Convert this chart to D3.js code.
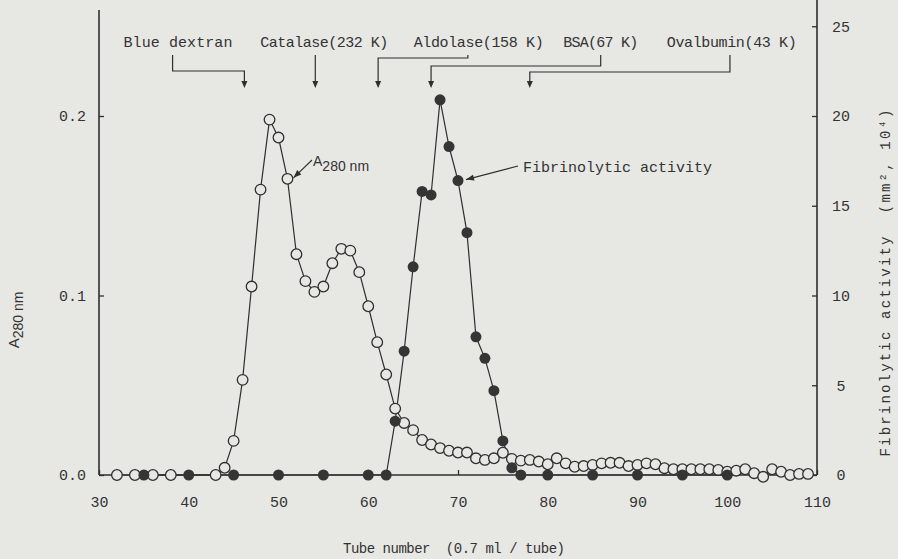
<!DOCTYPE html>
<html>
<head>
<meta charset="utf-8">
<script src="https://cdn.jsdelivr.net/npm/d3@7"></script>
<style>
  body { margin: 0; background: #e7e7e4; }
  svg { display: block; }
  text { fill: #333; }
</style>
</head>
<body>
<div id="chart"></div>
<script>
// A280 (open circles)
const tubesA = [32, 34, 36, 38, 43, 44, 45, 46, 47, 48, 49, 50, 51, 52, 53, 54, 55, 56, 57, 58,
    59, 60, 61, 62, 63, 64, 65, 66, 67, 68, 69, 70, 71, 72, 73, 74, 75, 76, 77, 78,
    79, 80, 81, 82, 83, 84, 85, 86, 87, 88, 89, 90, 91, 92, 93, 94, 95, 96, 97, 98,
    99, 100, 101, 102, 103, 104, 105, 106, 107, 108, 109];
const valuesA = [0, 0, 0, 0, 0, 0.004, 0.019, 0.053, 0.105, 0.159, 0.198, 0.188, 0.165, 0.123, 0.108, 0.102, 0.105, 0.118, 0.126, 0.125,
    0.113, 0.094, 0.074, 0.056, 0.037, 0.029, 0.025, 0.0195, 0.017, 0.015, 0.0135, 0.0125, 0.0125, 0.0093, 0.0084, 0.0093, 0.0124, 0.009, 0.008, 0.0084,
    0.0075, 0.006, 0.0093, 0.0065, 0.0046, 0.005, 0.0056, 0.0065, 0.0068, 0.0068, 0.005, 0.0056, 0.0065, 0.006, 0.0038, 0.0032, 0.0032, 0.0032, 0.0032, 0.0032,
    0.0028, 0.0018, 0.0024, 0.0032, 0.001, -0.001, 0.0032, 0.0018, 0, 0.0006, 0.0006];

// fibrinolytic activity (filled circles)
const tubesF = [35, 40, 45, 50, 55, 60, 62, 63, 64, 65, 66, 67, 68, 69, 70, 71, 72, 73, 74, 75, 76, 77, 80, 85, 90, 95, 100];
const valuesF = [0, 0, 0, 0, 0, 0, 0, 3.0, 6.9, 11.6, 15.8, 15.6, 20.9, 18.3, 16.4, 13.5, 7.7, 6.5, 4.7, 1.9, 0.4, 0, 0, 0, 0, 0, 0];

const xTicks = [30, 40, 50, 60, 70, 80, 90, 100, 110];
const yTicksA = [0, 0.1, 0.2];
const yTicksF = [0, 5, 10, 15, 20, 25];

// size markers: name, elution tube, label center tube, drop tube (null = straight)
const markerNames = ["Blue dextran", "Catalase(232 K)", "Aldolase(158 K)", "BSA(67 K)", "Ovalbumin(43 K)"];
const markerTubes = [46.2, 54.1, 61.1, 67.0, 78.0];
const markerLabelAt = [38.8, 55.1, 72.3, 85.9, 100.5];
const markerDropAt = [38.2, null, 71.1, 85.9, 100.3];

// layout for the marker brackets (px)
const markerLevel = [71, null, 58, 66, 72];
const markerTextLen = [109, 128, 130, 75, 130];

const ink = "#2f2f2f";
const paper = "#e7e7e4";
const mono = "'Liberation Mono', 'DejaVu Sans Mono', monospace";
const sans = "'Liberation Sans', Arial, sans-serif";

const width = 898, height = 559;
const svg = d3.select("#chart").append("svg")
    .attr("width", width)
    .attr("height", height);

svg.append("rect").attr("width", width).attr("height", height).attr("fill", paper);

const x = d3.scaleLinear().domain([30, 110]).range([99, 817]);
const yA = d3.scaleLinear().domain([0, 0.2]).range([475, 116]);
const yF = d3.scaleLinear().domain([0, 20]).range([475, 116]);

// axes
const xAxis = svg.append("g")
    .attr("transform", "translate(0," + yA(0) + ")")
    .call(d3.axisBottom(x).tickValues(xTicks).tickSize(-5).tickPadding(21));
const leftAxis = svg.append("g")
    .attr("transform", "translate(" + x(30) + ",0)")
    .call(d3.axisLeft(yA).tickValues(yTicksA).tickFormat(d3.format(".1f")).tickSize(-5).tickPadding(13));
const rightAxis = svg.append("g")
    .attr("transform", "translate(" + x(110) + ",0)")
    .call(d3.axisRight(yF).tickValues(yTicksF).tickSize(-5).tickPadding(20));

[xAxis, leftAxis, rightAxis].forEach(function (g) {
    g.select(".domain").remove();
    g.selectAll(".tick line").attr("stroke", ink).attr("stroke-width", 1.3);
    g.selectAll(".tick text")
        .style("font-family", mono)
        .style("font-size", "15px")
        .attr("fill", "#333");
});
rightAxis.selectAll(".tick text").attr("text-anchor", "middle").attr("x", 24);

// frame lines
svg.append("line").attr("x1", x(30)).attr("x2", x(30)).attr("y1", 10).attr("y2", yA(0))
    .attr("stroke", ink).attr("stroke-width", 1.6);
svg.append("line").attr("x1", x(110)).attr("x2", x(110)).attr("y1", 0).attr("y2", yA(0))
    .attr("stroke", ink).attr("stroke-width", 1.6);
svg.append("line").attr("x1", x(30)).attr("x2", x(110)).attr("y1", yA(0)).attr("y2", yA(0))
    .attr("stroke", ink).attr("stroke-width", 1.6);

// axis titles
svg.append("text")
    .attr("x", 454)
    .attr("y", 553)
    .attr("text-anchor", "middle")
    .attr("textLength", 222)
    .attr("lengthAdjust", "spacing")
    .style("font-family", mono)
    .style("font-size", "14px")
    .attr("xml:space", "preserve")
    .text("Tube number  (0.7 ml / tube)");

const leftTitle = svg.append("text")
    .attr("transform", "translate(19,320) rotate(-90)")
    .attr("text-anchor", "middle")
    .style("font-family", sans)
    .style("font-size", "15px");
leftTitle.append("tspan").text("A");
leftTitle.append("tspan").attr("baseline-shift", "-30%").style("font-size", "14px").text("280 nm");

svg.append("text")
    .attr("transform", "translate(890,283) rotate(-90)")
    .attr("text-anchor", "middle")
    .attr("textLength", 347)
    .attr("lengthAdjust", "spacing")
    .style("font-family", mono)
    .style("font-size", "14px")
    .attr("xml:space", "preserve")
    .text("Fibrinolytic activity  (mm\u00b2, 10\u2074)");

// lines
const lineA = d3.line()
    .x(function (d, i) { return x(tubesA[i]); })
    .y(function (d) { return yA(d); });
const lineF = d3.line()
    .x(function (d, i) { return x(tubesF[i]); })
    .y(function (d) { return yF(d); });

svg.append("path").datum(valuesA)
    .attr("d", lineA).attr("fill", "none").attr("stroke", ink).attr("stroke-width", 1.2);
svg.append("path").datum(valuesF)
    .attr("d", lineF).attr("fill", "none").attr("stroke", ink).attr("stroke-width", 1.2);

// points
svg.append("g").selectAll("circle")
    .data(valuesA)
    .enter().append("circle")
    .attr("cx", function (d, i) { return x(tubesA[i]); })
    .attr("cy", function (d) { return yA(d); })
    .attr("r", 5.3)
    .attr("fill", paper)
    .attr("stroke", ink)
    .attr("stroke-width", 1.3);

svg.append("g").selectAll("circle")
    .data(valuesF)
    .enter().append("circle")
    .attr("cx", function (d, i) { return x(tubesF[i]); })
    .attr("cy", function (d) { return yF(d); })
    .attr("r", 5.5)
    .attr("fill", "#353535");

// marker arrows at top
const arrowTip = 88, textBase = 47, dropTop = 55;
const markers = svg.append("g");
markerNames.forEach(function (name, i) {
    markers.append("text")
        .attr("x", x(markerLabelAt[i]))
        .attr("y", textBase)
        .attr("text-anchor", "middle")
        .attr("textLength", markerTextLen[i])
        .attr("lengthAdjust", "spacing")
        .style("font-family", mono)
        .style("font-size", "15px")
        .text(name);

    var pts;
    if (markerDropAt[i] === null) {
        pts = [[x(markerTubes[i]), dropTop], [x(markerTubes[i]), arrowTip - 6]];
    } else {
        pts = [[x(markerDropAt[i]), dropTop], [x(markerDropAt[i]), markerLevel[i]],
            [x(markerTubes[i]), markerLevel[i]], [x(markerTubes[i]), arrowTip - 6]];
    }
    markers.append("path")
        .attr("d", d3.line()(pts))
        .attr("fill", "none").attr("stroke", ink).attr("stroke-width", 1.2);
    var ax = x(markerTubes[i]);
    markers.append("path")
        .attr("d", "M" + (ax - 3) + "," + (arrowTip - 7) + "L" + (ax + 3) + "," + (arrowTip - 7) + "L" + ax + "," + arrowTip + "Z")
        .attr("fill", ink);
});

// curve labels with arrows
function pointer(x1, y1, x2, y2) {
    svg.append("line").attr("x1", x1).attr("y1", y1).attr("x2", x2).attr("y2", y2)
        .attr("stroke", ink).attr("stroke-width", 1.1);
    var ang = Math.atan2(y2 - y1, x2 - x1), L = 8, W = 3;
    var bx = x2 - L * Math.cos(ang), by = y2 - L * Math.sin(ang);
    svg.append("path")
        .attr("d", "M" + x2 + "," + y2 +
            "L" + (bx - W * Math.sin(ang)) + "," + (by + W * Math.cos(ang)) +
            "L" + (bx + W * Math.sin(ang)) + "," + (by - W * Math.cos(ang)) + "Z")
        .attr("fill", ink);
}

const aLabel = svg.append("text")
    .attr("x", 313).attr("y", 166)
    .style("font-family", sans).style("font-size", "14px");
aLabel.append("tspan").text("A");
aLabel.append("tspan").attr("baseline-shift", "-35%").text("280 nm");
pointer(312, 160, x(51) + 6, yA(0.165) - 1);

svg.append("text")
    .attr("x", 523).attr("y", 172)
    .style("font-family", mono).style("font-size", "15px")
    .text("Fibrinolytic activity");
pointer(518, 166, x(70) + 8, yF(16.4) - 1);
</script>
</body>
</html>
